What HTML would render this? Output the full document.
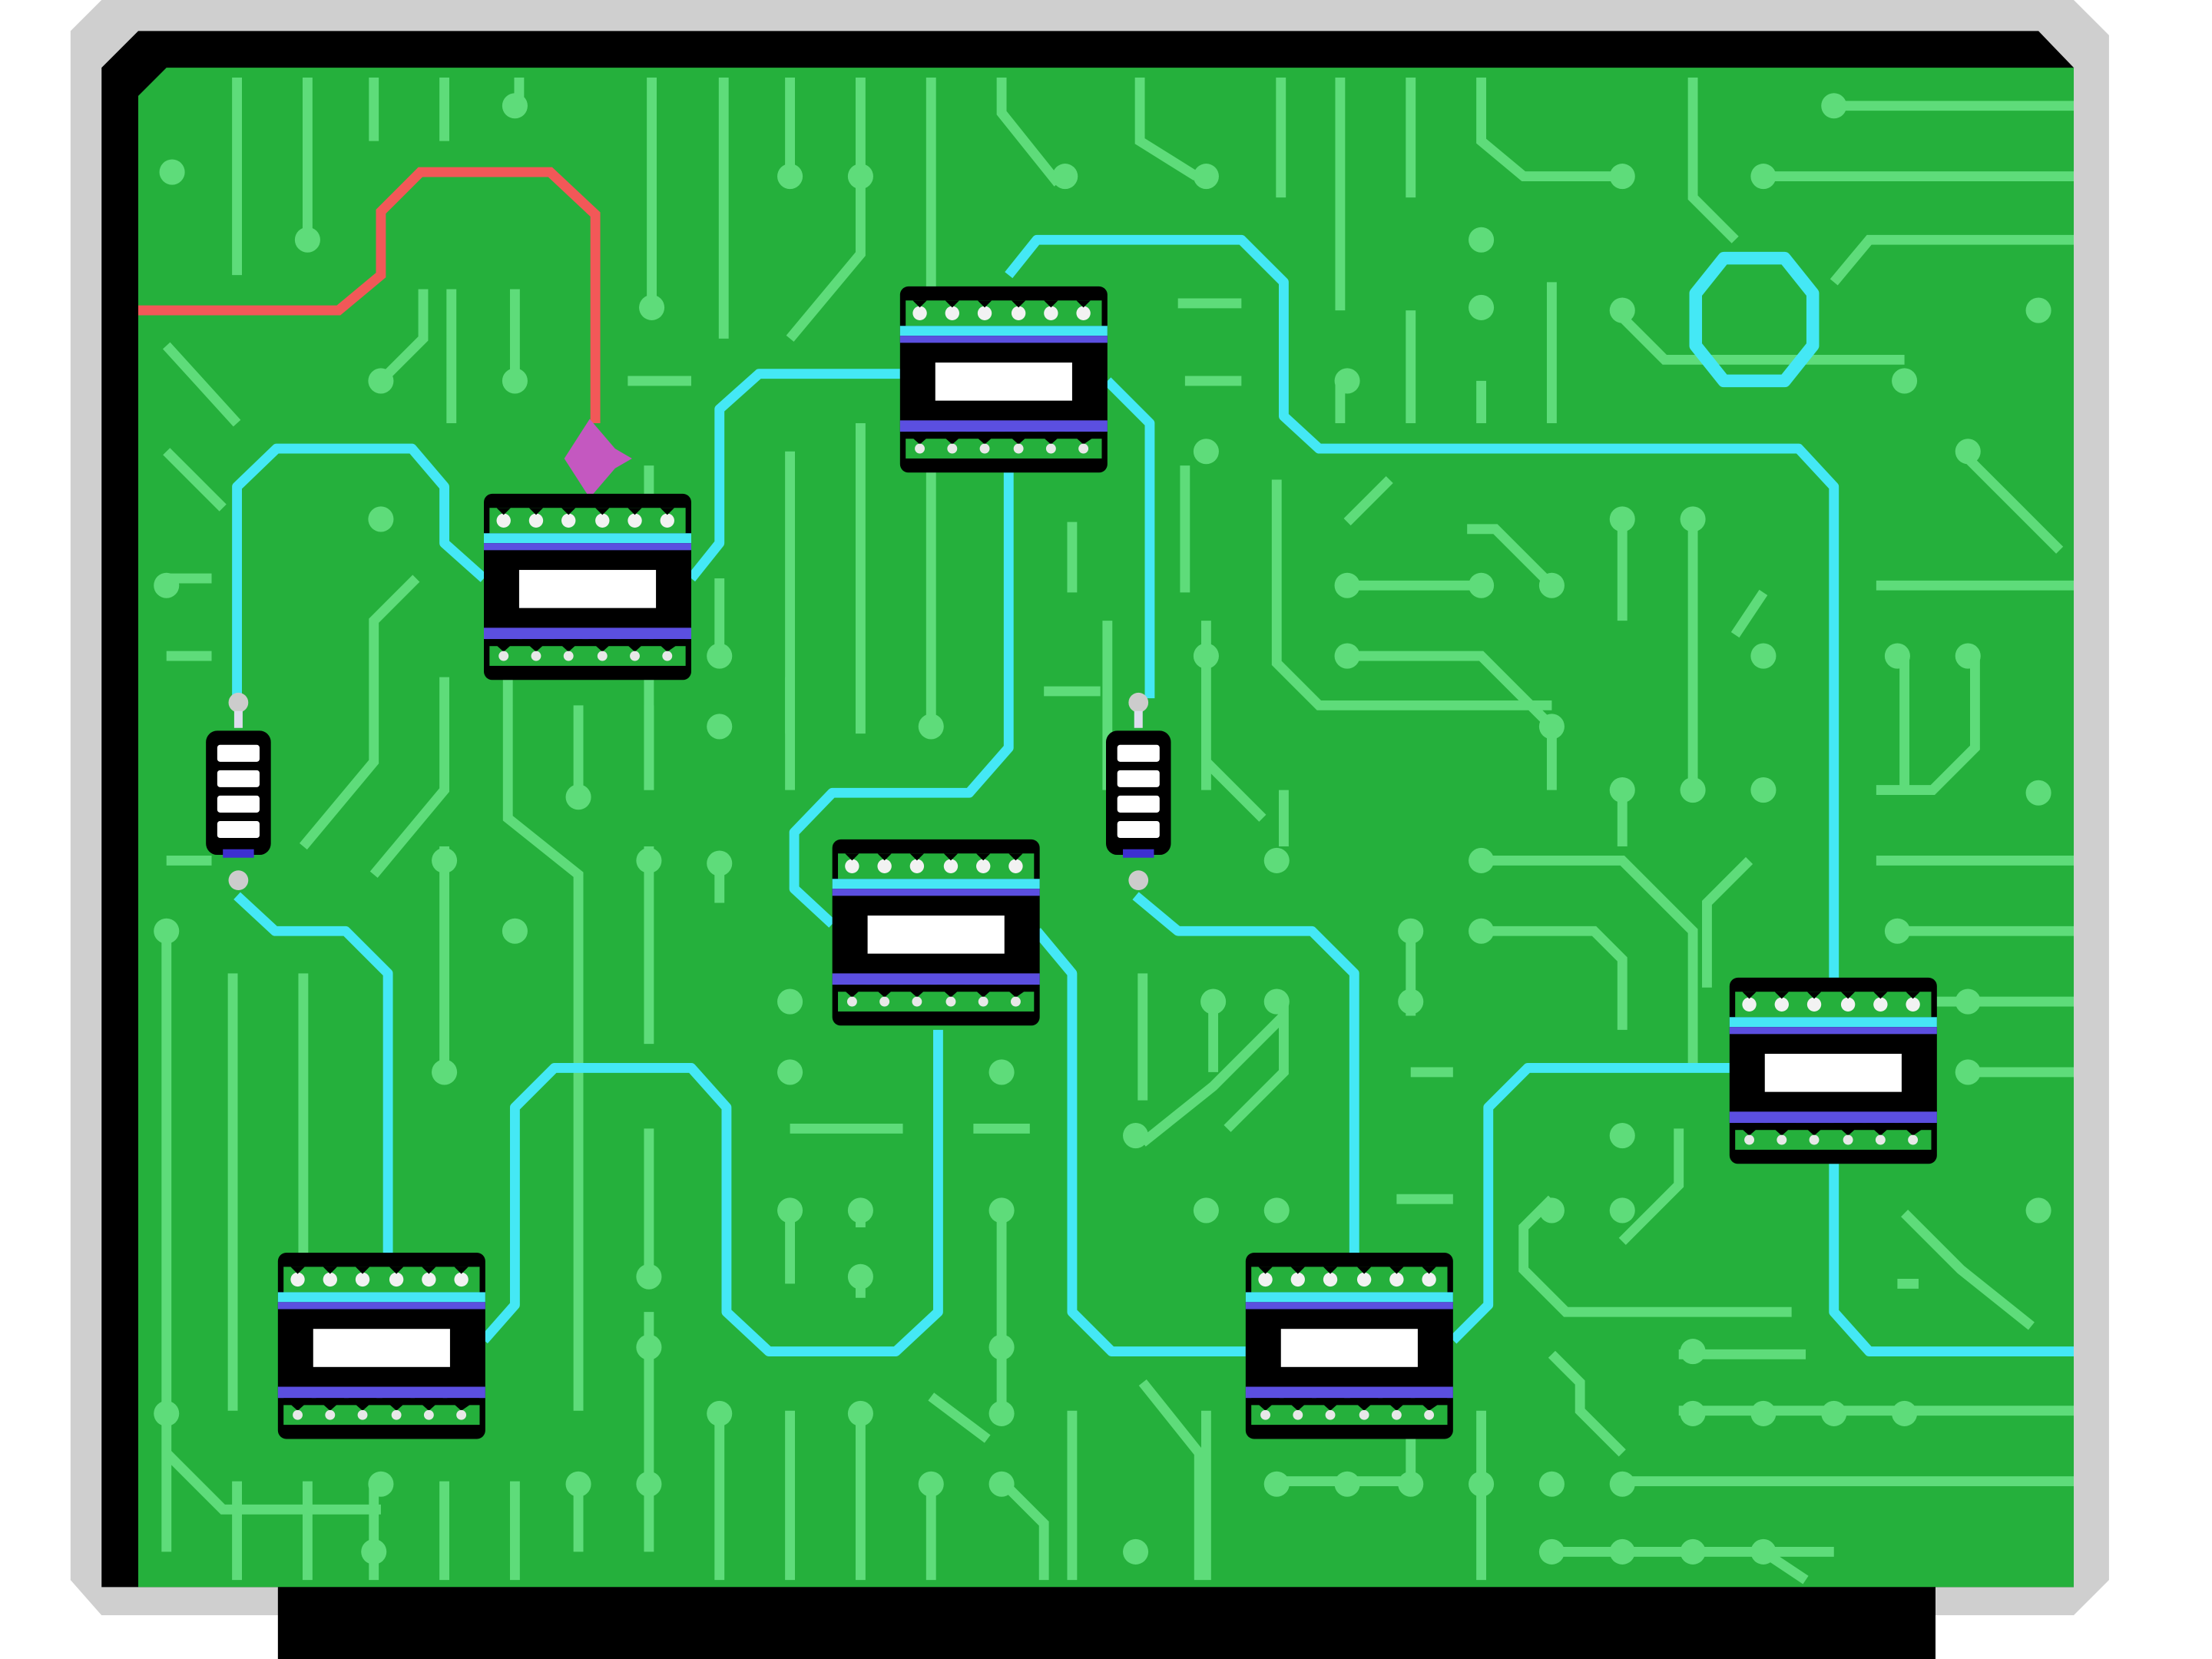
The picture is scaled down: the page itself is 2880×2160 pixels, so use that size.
<!DOCTYPE html>
<html><head><meta charset="utf-8"><style>
html,body{margin:0;padding:0;background:#fff;}
svg{display:block;}
</style></head><body>
<svg width="2880" height="2160" viewBox="0 0 1568 1176" preserveAspectRatio="none" xmlns="http://www.w3.org/2000/svg">
<defs>
<g id="chip">
  <rect x="0" y="0" width="147" height="132" fill="#000" rx="6"/>
  <rect x="4" y="10" width="139" height="18" fill="#25b03c"/>
  <g fill="#f2f2f2">
    <circle cx="14" cy="19" r="5"/><circle cx="37" cy="19" r="5"/><circle cx="60" cy="19" r="5"/>
    <circle cx="84" cy="19" r="5"/><circle cx="107" cy="19" r="5"/><circle cx="130" cy="19" r="5"/>
  </g>
  <g fill="#000">
    <polygon points="9,10 19,10 14,15"/><polygon points="32,10 42,10 37,15"/><polygon points="55,10 65,10 60,15"/>
    <polygon points="79,10 89,10 84,15"/><polygon points="102,10 112,10 107,15"/><polygon points="125,10 135,10 130,15"/>
  </g>
  <rect x="0" y="28" width="147" height="7" fill="#46e6f5"/>
  <rect x="0" y="35" width="147" height="5" fill="#5b4fe0"/>
  <rect x="25" y="54" width="97" height="27" fill="#fff"/>
  <rect x="0" y="95" width="147" height="8" fill="#5b4fe0"/>
  <rect x="4" y="108" width="139" height="14" fill="#25b03c"/>
  <g fill="#000">
    <polygon points="4,103 24,103 14,112"/><polygon points="27,103 47,103 37,112"/><polygon points="50,103 70,103 60,112"/>
    <polygon points="74,103 94,103 84,112"/><polygon points="97,103 117,103 107,112"/><polygon points="120,103 143,103 130,112"/>
  </g>
  <g fill="#e8e8e8">
    <circle cx="14" cy="115" r="3.5"/><circle cx="37" cy="115" r="3.5"/><circle cx="60" cy="115" r="3.5"/>
    <circle cx="84" cy="115" r="3.5"/><circle cx="107" cy="115" r="3.5"/><circle cx="130" cy="115" r="3.5"/>
  </g>
</g>
<g id="res">
  <circle cx="23" cy="-20" r="7" fill="#ccc"/>
  <rect x="20" y="-14" width="6" height="12" fill="#dde"/>
  <rect x="0" y="0" width="46" height="88" rx="8" fill="#000"/>
  <g fill="#fff">
    <rect x="8" y="10" width="30" height="12" rx="2"/><rect x="8" y="28" width="30" height="12" rx="2"/>
    <rect x="8" y="46" width="30" height="12" rx="2"/><rect x="8" y="64" width="30" height="12" rx="2"/>
  </g>
  <rect x="12" y="84" width="22" height="6" fill="#3d2fd0"/>
  <circle cx="23" cy="106" r="7" fill="#ccc"/>
</g>
</defs>
<!-- frame -->
<polygon points="50,22 72,0 1470,0 1495,25 1495,1120 1470,1145 72,1145 50,1120" fill="#cfcfcf"/>
<polygon points="72,48 98,22 1445,22 1470,48 1470,1125 72,1125" fill="#000"/>
<polygon points="98,68 118,48 1470,48 1470,1125 98,1125" fill="#25b03c"/>
<rect x="197" y="1125" width="1175" height="51" fill="#000"/>

<!-- background light traces -->
<g stroke="#5edc7a" stroke-width="7" fill="none" stroke-linecap="butt">
<path d="M168 55V195M218 55V170M265 55V100M315 55V100M368 55V80M462 55V220M513 55V240M560 55V125M610 55V125M660 55V230M710 55V80l40 50M808 55V100l40 25M908 55V140M950 55V220M1000 55V140M1050 55V100l30 25H1150M1200 55V140l30 30M1300 75H1470M1250 125H1470M1300 200l25-30H1470M1150 225l30 30H1350"/>
<path d="M118 245l50 55M270 270l30-30V205M320 205V300M365 205V270M445 270H490M560 240l50-60V125M610 300V520M560 320V520M460 330V560M410 370V450M660 300V520M760 240V300M840 270H880M835 215H880M950 270V300M1000 220V300M1050 270V300M1100 200V300"/>
<path d="M118 320l40 40M118 410H150M118 465H150M118 610H150M118 660V1100M165 690V1000M215 690V1000M215 600l50-60V440l30-30M265 620l50-60V480M360 480V580l50 40V790M410 500V560M460 500V560M510 410V470M315 600V760M460 600V740M510 610V640M560 480V560"/>
<path d="M760 370V420M740 490H780M840 330V420M785 440V560M855 470V540l40 40M905 340V470l30 30H1100M955 370l30-30M950 415H1050M950 465H1050l50 50V560M1100 415l-40-40H1040M1150 370V440M1200 370V560M1250 420l-20 30M1350 465V560M1400 465V530l-30 30H1330M1330 415H1470M1390 320l30 30 40 40M855 440V560M910 560V600"/>
<path d="M1050 610H1150l50 50V760M1050 660H1130l20 20V730M1150 560V600M1240 610l-30 30V700M1330 610H1470M1350 660H1470M1350 710H1470M1390 760H1470M1000 660V720M1000 760H1030M990 850H1030M910 710V760l-40 40M860 710V760M810 690V780M810 810l50-40 50-50"/>
<path d="M560 800H640M690 800H730M560 850V910M610 850V870M610 900V920M710 850V1000M460 800V900M410 790V1000M460 930V1100M410 1050V1100M365 1050V1120M315 1050V1120M265 1050V1120M218 1050V1120M168 1050V1120M118 1030l40 40H270"/>
<path d="M510 1000V1120M560 1000V1120M610 1000V1120M660 1050V1120M660 990l40 30M710 1050l30 30V1120M760 1000V1120M810 980l40 50V1120M855 1000V1120M905 1050H1000M1000 1000V1050M1050 1000V1120M1100 850l-20 20V900l30 30H1270M1150 880l40-40V800M1100 960l20 20V1000l30 30M1150 1050H1470M1190 1000H1470M1190 960H1280M1350 860l40 40 50 40M1345 910H1360M1100 1100H1300M1250 1100l30 20"/>
</g>
<g fill="#5edc7a">
<circle cx="122" cy="122" r="9"/><circle cx="218" cy="170" r="9"/><circle cx="365" cy="75" r="9"/><circle cx="462" cy="218" r="9"/><circle cx="560" cy="125" r="9"/><circle cx="610" cy="125" r="9"/><circle cx="755" cy="125" r="9"/><circle cx="855" cy="125" r="9"/><circle cx="1150" cy="125" r="9"/><circle cx="1250" cy="125" r="9"/><circle cx="1300" cy="75" r="9"/><circle cx="1050" cy="170" r="9"/><circle cx="1050" cy="218" r="9"/><circle cx="1150" cy="220" r="9"/><circle cx="1350" cy="270" r="9"/><circle cx="1445" cy="220" r="9"/><circle cx="955" cy="270" r="9"/>
<circle cx="270" cy="270" r="9"/><circle cx="365" cy="270" r="9"/><circle cx="270" cy="368" r="9"/><circle cx="118" cy="415" r="9"/><circle cx="510" cy="465" r="9"/><circle cx="510" cy="515" r="9"/><circle cx="410" cy="565" r="9"/><circle cx="315" cy="610" r="9"/><circle cx="460" cy="610" r="9"/><circle cx="510" cy="612" r="9"/><circle cx="660" cy="515" r="9"/><circle cx="365" cy="660" r="9"/><circle cx="315" cy="760" r="9"/><circle cx="118" cy="660" r="9"/>
<circle cx="855" cy="320" r="9"/><circle cx="855" cy="465" r="9"/><circle cx="955" cy="415" r="9"/><circle cx="1050" cy="415" r="9"/><circle cx="1100" cy="415" r="9"/><circle cx="1150" cy="368" r="9"/><circle cx="1200" cy="368" r="9"/><circle cx="1100" cy="515" r="9"/><circle cx="1150" cy="560" r="9"/><circle cx="1200" cy="560" r="9"/><circle cx="1250" cy="560" r="9"/><circle cx="1250" cy="465" r="9"/><circle cx="1345" cy="465" r="9"/><circle cx="1395" cy="465" r="9"/><circle cx="1445" cy="562" r="9"/><circle cx="1395" cy="320" r="9"/><circle cx="955" cy="465" r="9"/>
<circle cx="905" cy="610" r="9"/><circle cx="1050" cy="610" r="9"/><circle cx="1050" cy="660" r="9"/><circle cx="1000" cy="660" r="9"/><circle cx="1000" cy="710" r="9"/><circle cx="860" cy="710" r="9"/><circle cx="905" cy="710" r="9"/><circle cx="805" cy="805" r="9"/><circle cx="1150" cy="805" r="9"/><circle cx="1100" cy="858" r="9"/><circle cx="1150" cy="858" r="9"/><circle cx="1345" cy="660" r="9"/><circle cx="1395" cy="710" r="9"/><circle cx="1395" cy="760" r="9"/><circle cx="1445" cy="858" r="9"/>
<circle cx="560" cy="710" r="9"/><circle cx="560" cy="760" r="9"/><circle cx="710" cy="760" r="9"/><circle cx="560" cy="858" r="9"/><circle cx="610" cy="858" r="9"/><circle cx="610" cy="905" r="9"/><circle cx="710" cy="858" r="9"/><circle cx="460" cy="905" r="9"/><circle cx="460" cy="955" r="9"/><circle cx="710" cy="955" r="9"/><circle cx="855" cy="858" r="9"/><circle cx="905" cy="858" r="9"/>
<circle cx="270" cy="1052" r="9"/><circle cx="410" cy="1052" r="9"/><circle cx="460" cy="1052" r="9"/><circle cx="510" cy="1002" r="9"/><circle cx="610" cy="1002" r="9"/><circle cx="660" cy="1052" r="9"/><circle cx="710" cy="1052" r="9"/><circle cx="710" cy="1002" r="9"/><circle cx="905" cy="1052" r="9"/><circle cx="955" cy="1052" r="9"/><circle cx="1000" cy="1052" r="9"/><circle cx="1050" cy="1052" r="9"/><circle cx="1100" cy="1052" r="9"/><circle cx="1150" cy="1052" r="9"/><circle cx="1200" cy="1002" r="9"/><circle cx="1250" cy="1002" r="9"/><circle cx="1300" cy="1002" r="9"/><circle cx="1350" cy="1002" r="9"/><circle cx="1200" cy="958" r="9"/><circle cx="1100" cy="1100" r="9"/><circle cx="1150" cy="1100" r="9"/><circle cx="1200" cy="1100" r="9"/><circle cx="1250" cy="1100" r="9"/><circle cx="265" cy="1100" r="9"/><circle cx="805" cy="1100" r="9"/><circle cx="118" cy="1002" r="9"/>
</g>

<!-- cyan paths -->
<g stroke="#44e8f5" stroke-width="7" fill="none" stroke-linejoin="round">
<path d="M168 495V345l28-27h96l23 27v40l28 25"/>
<path d="M490 410l20-25V290l28-25h100"/>
<path d="M715 195l20-25h145l30 30v95l25 23h340l25 27v348"/>
<path d="M715 335V530l-28 32H590l-27 28v40l27 25"/>
<path d="M785 270l30 30v195"/>
<path d="M805 635l30 25h95l30 30v198"/>
<path d="M168 635l27 25h50l30 30v198"/>
<path d="M343 950l22-25V785l28-28h97l25 28v145l30 28h90l30-28V730"/>
<path d="M735 660l25 30v240l28 28h95"/>
<path d="M1030 950l25-25V785l28-28h143"/>
<path d="M1300 825v105l25 28h145"/>
<polygon points="1222,183 1265,183 1285,208 1285,245 1265,270 1222,270 1202,245 1202,208" stroke-width="9"/>
</g>
<!-- red path -->
<path d="M98 220H240l30-25V150l28-28h92l32 30V300" stroke="#f25858" stroke-width="7" fill="none"/>
<polygon points="418,297 436,318 448,325 436,332 418,353 400,325" fill="#c458c0"/>

<!-- chips -->
<use href="#chip" x="343" y="350"/>
<use href="#chip" x="638" y="203"/>
<use href="#chip" x="590" y="595"/>
<use href="#chip" x="1226" y="693"/>
<use href="#chip" x="197" y="888"/>
<use href="#chip" x="883" y="888"/>
<!-- resistors -->
<use href="#res" x="146" y="518"/>
<use href="#res" x="784" y="518"/>
</svg>
</body></html>
